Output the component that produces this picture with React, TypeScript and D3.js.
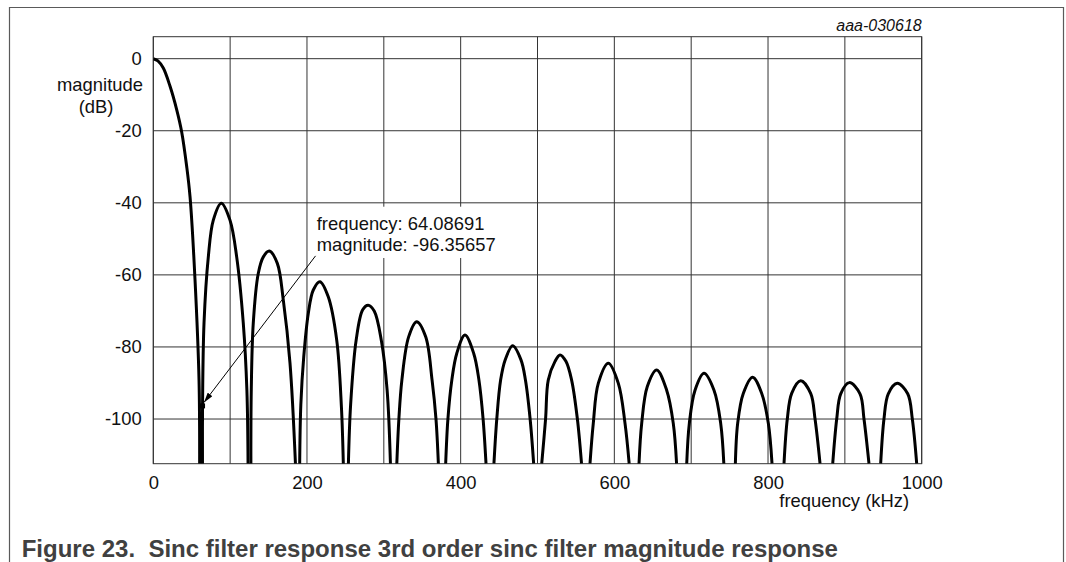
import { useRef, useEffect } from "react";
import * as d3 from "d3";

type Pt = [number, number]; // [frequency kHz, magnitude dB]

// main lobe
const mainLobe: Pt[] = [
    [0, 0], [6, -0.6], [13, -2.6], [21.7, -7.6], [30.5, -14.2], [37, -20.4],
    [43.5, -30], [47.8, -38.3], [54.3, -61.4], [59.5, -89.2], [60.3, -112.4],
];

// side lobes, each one starts and ends where it leaves the bottom of the plot
const sideLobes: Pt[][] = [
    [[64.0, -112.4], [64.09, -96.36], [66, -73.4], [71.6, -55], [78.1, -44.8], [88.5, -40.1], [99.8, -44.8], [108.5, -55], [117.1, -73.4], [121.8, -92], [123.3, -112.4]],
    [[127, -112.4], [127.5, -92], [130.1, -73.4], [136.6, -59.6], [143.2, -55], [151, -53.4], [161.4, -56.8], [169.2, -67], [177.9, -84.5], [185, -112.4]],
    [[190.5, -112.4], [192, -96], [195.8, -82.7], [201.7, -70.7], [208.2, -64.2], [216.9, -61.9], [227.7, -66.1], [238.7, -78.1], [244.8, -96.6], [247.3, -112.4]],
    [[253.9, -112.4], [256.8, -96], [264, -78.1], [272.5, -69.7], [279.5, -68.4], [287.5, -70], [297, -78.5], [304.3, -92], [308.6, -112.4]],
    [[316.9, -112.4], [319.6, -100], [323.5, -89.2], [332.3, -77.2], [342.8, -73], [354.5, -77.2], [362.8, -89.2], [367.9, -100], [371, -112.4]],
    [[380.5, -112.4], [383.4, -100], [388.5, -89.2], [394.9, -81.8], [405.6, -76.7], [417, -81.8], [423.8, -89.2], [429.2, -100], [433, -112.4]],
    [[443.3, -112.4], [447, -100], [452, -89.2], [457.9, -83.6], [467.7, -79.7], [478.5, -83.6], [484.3, -89.2], [490.4, -100], [495, -112.4]],
    [[505.5, -112.4], [510.5, -100], [514, -89.2], [522.8, -84], [529.3, -82.2], [537, -84], [544.4, -89.2], [551.9, -100], [557.3, -112.4]],
    [[568.3, -112.4], [572.6, -101.2], [579.1, -90.1], [592.2, -84.5], [605.2, -90.1], [613.9, -101.2], [619.3, -112.4]],
    [[632.1, -112.4], [635.6, -101.2], [642.9, -91], [655.1, -86.4], [668.1, -92], [676.7, -101.2], [681, -112.4]],
    [[694.2, -112.4], [697.6, -101.2], [705, -92], [716.7, -87.3], [729.7, -92], [738.4, -101.2], [742.5, -112.4]],
    [[757.5, -112.4], [760.5, -101.2], [767.8, -92.9], [780, -88.4], [791.8, -92.9], [800.4, -101.2], [805.2, -112.4]],
    [[820.8, -112.4], [825.1, -100], [830.8, -92.9], [842.5, -89.4], [855.5, -92.9], [861.2, -100], [867.7, -112.4]],
    [[884.2, -112.4], [889.4, -100], [894.6, -93], [905.8, -89.9], [919.7, -93], [924.9, -100], [931.4, -112.4]],
    [[946.6, -112.4], [950.9, -100], [956.5, -93], [968.2, -90.1], [981.8, -93], [987.8, -100], [993.5, -112.4]],
];

const xGridValues = [0, 100, 200, 300, 400, 500, 600, 700, 800, 900, 1000];
const xTickLabels = [0, 200, 400, 600, 800, 1000];
const yTickValues = [0, -20, -40, -60, -80, -100];
const cursor = { freq: 64.08691, mag: -96.35657 };

const FONT = "'Liberation Sans', Arial, Helvetica, sans-serif";

export default function App() {
    const svgRef = useRef<SVGSVGElement | null>(null);

    useEffect(() => {
        if (!svgRef.current) return;
        const svg = d3.select(svgRef.current);
        svg.selectAll("*").remove();

        const H = 562;
        const plot = { left: 153.3, right: 921.7, top: 36.7, bottom: 463.7 };

        const x = d3.scaleLinear().domain([0, 1000]).range([plot.left, plot.right]);
        const y = d3.scaleLinear().domain([-112.4, 6.1]).range([plot.bottom, plot.top]);

        const defs = svg.append("defs");
        defs.append("clipPath").attr("id", "plotClip")
            .append("rect")
            .attr("x", plot.left).attr("y", plot.top)
            .attr("width", plot.right - plot.left).attr("height", plot.bottom - plot.top);
        defs.append("marker")
            .attr("id", "arrowHead")
            .attr("markerUnits", "userSpaceOnUse")
            .attr("viewBox", "0 0 10 6")
            .attr("refX", 10).attr("refY", 3)
            .attr("markerWidth", 10).attr("markerHeight", 6)
            .attr("orient", "auto")
            .append("path").attr("d", "M0,0L10,3L0,6Z").attr("fill", "#000");

        // outer figure frame, open at the bottom
        svg.append("path")
            .attr("d", `M9.5,${H}V7.5H1063.5V${H}`)
            .attr("fill", "none")
            .attr("stroke", "#5a5a5a")
            .attr("stroke-width", 1.2);

        // grid
        const grid = svg.append("g").attr("stroke", "#333").attr("stroke-width", 1);
        grid.selectAll("line.vgrid")
            .data(xGridValues)
            .join("line")
            .attr("class", "vgrid")
            .attr("x1", d => x(d)).attr("x2", d => x(d))
            .attr("y1", plot.top).attr("y2", plot.bottom);
        grid.selectAll("line.hgrid")
            .data(yTickValues)
            .join("line")
            .attr("class", "hgrid")
            .attr("x1", plot.left).attr("x2", plot.right)
            .attr("y1", d => y(d)).attr("y2", d => y(d));
        grid.append("rect")
            .attr("x", plot.left).attr("y", plot.top)
            .attr("width", plot.right - plot.left).attr("height", plot.bottom - plot.top)
            .attr("fill", "none");

        // tick labels
        const xAxis = svg.append("g")
            .attr("transform", `translate(0,${plot.bottom})`)
            .call(d3.axisBottom(x).tickValues(xTickLabels).tickSize(0).tickPadding(12.5).tickFormat(d => String(d)));
        xAxis.select(".domain").remove();
        xAxis.selectAll("text").attr("font-family", FONT).attr("font-size", 18.4).attr("fill", "#111");

        const yAxis = svg.append("g")
            .attr("transform", `translate(${plot.left},0)`)
            .call(d3.axisLeft(y).tickValues(yTickValues).tickSize(0).tickPadding(11.6).tickFormat(d => String(d)));
        yAxis.select(".domain").remove();
        yAxis.selectAll("text").attr("font-family", FONT).attr("font-size", 18.4).attr("fill", "#111");

        const label = (tx: number, ty: number, s: string, anchor = "middle") =>
            svg.append("text")
                .attr("x", tx).attr("y", ty)
                .attr("text-anchor", anchor)
                .attr("font-family", FONT)
                .attr("font-size", 18.4)
                .attr("fill", "#111")
                .text(s);

        label(100, 90.7, "magnitude");
        label(96, 112.7, "(dB)");
        label(844.2, 506.5, "frequency (kHz)");

        svg.append("text")
            .attr("x", plot.right).attr("y", 31)
            .attr("text-anchor", "end")
            .attr("font-family", FONT)
            .attr("font-style", "italic")
            .attr("font-size", 16)
            .attr("fill", "#111")
            .text("aaa-030618");

        // response curve, one path per lobe
        const line = d3.line<Pt>()
            .x(d => x(d[0]))
            .y(d => y(d[1]))
            .curve(d3.curveCatmullRom.alpha(0.5));

        svg.append("g")
            .attr("clip-path", "url(#plotClip)")
            .selectAll("path")
            .data([mainLobe, ...sideLobes])
            .join("path")
            .attr("d", d => line(d))
            .attr("fill", "none")
            .attr("stroke", "#000")
            .attr("stroke-width", 3)
            .attr("stroke-linejoin", "round");

        // data cursor annotation
        const cx = x(cursor.freq), cy = y(cursor.mag);
        svg.append("rect")
            .attr("x", cx + 110).attr("y", cy - 199.2)
            .attr("width", 188).attr("height", 51.3)
            .attr("fill", "#fff");
        label(cx + 114.2, cy - 176, `frequency: ${cursor.freq.toFixed(5)}`, "start");
        label(cx + 114.2, cy - 154.4, `magnitude: ${cursor.mag.toFixed(5)}`, "start");

        svg.append("line")
            .attr("x1", cx + 113).attr("y1", cy - 150)
            .attr("x2", cx + 1.5).attr("y2", cy - 3.5)
            .attr("stroke", "#000")
            .attr("stroke-width", 1)
            .attr("marker-end", "url(#arrowHead)");
        svg.append("rect")
            .attr("x", cx - 2.5).attr("y", cy - 2.5)
            .attr("width", 5).attr("height", 5)
            .attr("fill", "#000");

        // caption
        svg.append("text")
            .attr("x", 21.7).attr("y", 556.5)
            .attr("font-family", FONT)
            .attr("font-weight", "bold")
            .attr("font-size", 24)
            .attr("fill", "#404040")
            .style("white-space", "pre")
            .text("Figure 23.  Sinc filter response 3rd order sinc filter magnitude response");
    }, []);

    return (
        <svg
            ref={svgRef}
            width={1066}
            height={562}
            style={{ position: "absolute", left: 0, top: 0, background: "#fff" }}
        />
    );
}
